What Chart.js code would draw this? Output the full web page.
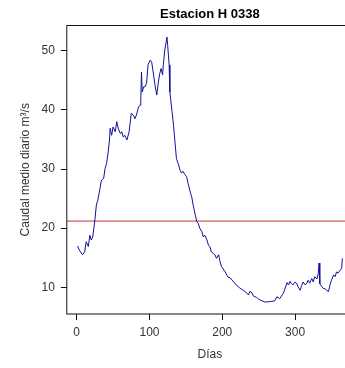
<!DOCTYPE html>
<html lang="es">
<head>
  <meta charset="UTF-8">
  <title>Estacion H 0338</title>
  <script src="https://cdn.jsdelivr.net/npm/chart.js"></script>
  <style>
    html, body {
      margin: 0;
      padding: 0;
      background: #fff;
      overflow: hidden;
    }
    canvas { display: block; }
  </style>
</head>
<body>
  <canvas id="caudalChart" width="360" height="368"></canvas>

  <script>
    // Dias y caudal medio diario
    const dias = [1, 4, 8, 11, 13, 16, 18, 20, 22, 25, 27, 29, 32, 34, 37, 39, 41, 43, 45, 46,
      48, 50, 53, 55, 57, 60, 62, 64, 66, 69, 72, 75, 78, 80, 82, 85, 87, 88, 89, 90,
      92, 94, 96, 98, 101, 103, 105, 108, 110, 112, 114, 116, 118, 119, 121, 124, 125, 127, 128, 131,
      133, 135, 137, 140, 142, 144, 146, 149, 151, 153, 156, 158, 160, 163, 165, 167, 169, 172, 174, 176,
      179, 181, 183, 185, 188, 190, 192, 195, 197, 199, 204, 208, 211, 215, 220, 224, 229, 234, 236, 238,
      240, 243, 247, 250, 253, 259, 266, 272, 275, 279, 284, 289, 291, 293, 295, 297, 300, 302, 304, 307,
      309, 311, 314, 316, 318, 320, 323, 325, 327, 330, 332, 333, 334, 337, 339, 341, 343, 346, 348, 350,
      353, 355, 357, 359, 362, 364, 365];
    const caudal = [17.0, 16.2, 15.5, 16.0, 17.7, 16.9, 18.8, 18.0, 18.5, 21.4, 23.9, 24.7, 26.7, 28.1, 28.4, 30.1, 30.9, 32.6, 34.9, 36.9,
      35.7, 37.1, 36.3, 38.0, 36.9, 36.0, 36.3, 35.4, 35.7, 34.9, 36.3, 39.4, 39.1, 38.5, 39.1, 40.5, 40.8, 41.5, 46.4, 43.0,
      43.9, 43.9, 44.5, 47.6, 48.4, 48.1, 46.4, 43.9, 42.5, 44.5, 46.1, 47.0, 45.9, 47.6, 50.1, 52.3, 50.9, 47.6, 43.0, 39.7,
      37.4, 34.6, 31.8, 30.7, 29.8, 29.3, 29.6, 29.0, 28.7, 27.6, 26.1, 25.3, 23.9, 22.2, 21.1, 20.8, 20.0, 19.4, 18.5, 18.8,
      18.0, 17.1, 16.9, 16.0, 15.7, 15.5, 14.9, 15.5, 14.3, 13.5, 12.6, 11.7, 11.6, 11.0, 10.3, 9.9, 9.5, 9.0, 8.7, 9.3,
      9.2, 8.5, 8.3, 8.0, 7.8, 7.5, 7.6, 7.7, 8.4, 8.1, 9.0, 10.8, 10.4, 11.0, 10.6, 10.4, 10.9, 10.7, 10.1, 9.5,
      10.3, 10.9, 10.4, 10.7, 11.2, 10.7, 11.5, 10.9, 11.8, 11.4, 12.4, 14.1, 10.6, 10.1, 9.8, 9.8, 9.5, 9.3, 10.4, 11.2,
      12.1, 11.8, 12.6, 12.4, 12.9, 13.2, 14.9];
    const caudalMedio = 21.2;

    const xTicks = [0, 100, 200, 300];
    const yTicks = [10, 20, 30, 40, 50];
    const xMin = -13.6, xMax = 379.6;
    const yMin = 5.49, yMax = 54.26;

    const fuente = 'Liberation Sans, Arial, sans-serif';
    Chart.defaults.font.family = fuente;
    Chart.defaults.font.size = 12;
    Chart.defaults.color = '#333';

    const serie = dias.map((d, i) => ({ x: d, y: caudal[i] }));
    const lineaMedia = [{ x: xMin, y: caudalMedio }, { x: xMax, y: caudalMedio }];

    // caja alrededor del area y titulo centrado sobre ella (como en R)
    const cajaYTitulo = {
      id: 'cajaYTitulo',
      afterDraw(chart) {
        const { ctx, chartArea: a } = chart;
        ctx.save();
        ctx.strokeStyle = '#111';
        ctx.lineWidth = 1;
        ctx.strokeRect(a.left, a.top, a.right - a.left, a.bottom - a.top);
        ctx.fillStyle = '#000';
        ctx.font = 'bold 13px ' + fuente;
        ctx.textAlign = 'center';
        ctx.textBaseline = 'middle';
        ctx.fillText('Estacion H 0338', (a.left + a.right) / 2, 14.5);
        ctx.restore();
      }
    };

    new Chart(document.getElementById('caudalChart'), {
      type: 'scatter',
      data: {
        datasets: [
          {
            data: serie,
            showLine: true,
            borderColor: '#10109a',
            borderWidth: 1,
            pointRadius: 0,
            tension: 0
          },
          {
            data: lineaMedia,
            showLine: true,
            borderColor: '#c8303a',
            borderWidth: 1,
            pointRadius: 0
          }
        ]
      },
      options: {
        responsive: false,
        animation: false,
        devicePixelRatio: 1,
        layout: { padding: { top: 25.5, right: 7, left: 0, bottom: 0 } },
        plugins: {
          legend: { display: false },
          title: { display: false },
          tooltip: { enabled: false }
        },
        scales: {
          x: {
            type: 'linear',
            min: xMin,
            max: xMax,
            afterBuildTicks: s => { s.ticks = xTicks.map(v => ({ value: v })); },
            afterFit: s => { s.height = 54; },
            grid: { drawOnChartArea: false, drawTicks: true, tickLength: 6, color: '#111' },
            border: { display: false },
            ticks: { padding: 5, maxRotation: 0 },
            title: { display: true, text: 'Días', padding: { top: 0, bottom: 6 } }
          },
          y: {
            type: 'linear',
            min: yMin,
            max: yMax,
            afterBuildTicks: s => { s.ticks = yTicks.map(v => ({ value: v })); },
            afterFit: s => { s.width = 66.8; },
            grid: { drawOnChartArea: false, drawTicks: true, tickLength: 6, color: '#111' },
            border: { display: false },
            ticks: { padding: 6 },
            title: { display: true, text: 'Caudal medio diario m³/s', padding: { top: 18, bottom: 0 } }
          }
        }
      },
      plugins: [cajaYTitulo]
    });
  </script>
</body>
</html>
